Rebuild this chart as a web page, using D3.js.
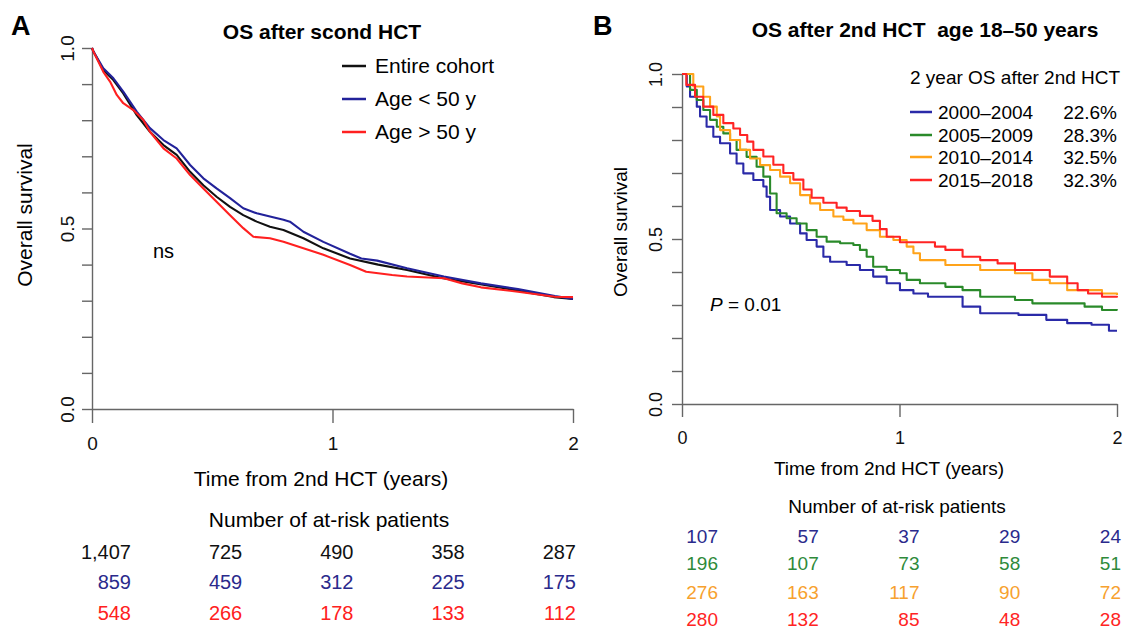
<!DOCTYPE html>
<html>
<head>
<meta charset="utf-8">
<script src="https://cdn.jsdelivr.net/npm/d3@7"></script>
<style>
  body { margin: 0; background: #fff; }
  text { font-family: "Liberation Sans", Arial, sans-serif; }
</style>
</head>
<body>
<div id="chart"></div>
<script>
// ---- Panel A data: [years, survival] ----
const aEntire = [[0,1],[0.006,0.99],[0.047,0.939],[0.089,0.911],[0.130,0.874],[0.186,0.814],[0.241,0.768],
  [0.297,0.731],[0.352,0.704],[0.408,0.657],[0.463,0.620],[0.518,0.588],[0.574,0.560],[0.629,0.537],
  [0.685,0.519],[0.740,0.505],[0.796,0.496],[0.879,0.473],[0.962,0.445],[1.073,0.417],[1.19,0.40],
  [1.31,0.385],[1.46,0.362],[1.62,0.345],[1.77,0.328],[1.92,0.31],[2.0,0.305]];
const aYoung = [[0,1],[0.006,0.99],[0.047,0.944],[0.089,0.916],[0.130,0.879],[0.186,0.824],[0.241,0.778],
  [0.297,0.745],[0.352,0.722],[0.408,0.676],[0.463,0.639],[0.518,0.611],[0.574,0.584],[0.629,0.556],
  [0.685,0.542],[0.740,0.533],[0.796,0.524],[0.823,0.519],[0.879,0.491],[0.962,0.463],[1.073,0.430],
  [1.12,0.417],[1.186,0.411],[1.31,0.39],[1.463,0.367],[1.617,0.348],[1.771,0.332],[1.925,0.313],[2.0,0.305]];
const aOld = [[0,1],[0.006,0.99],[0.047,0.934],[0.075,0.907],[0.103,0.870],[0.130,0.847],[0.172,0.828],
  [0.213,0.801],[0.241,0.768],[0.297,0.722],[0.352,0.694],[0.408,0.648],[0.463,0.611],[0.518,0.574],
  [0.574,0.537],[0.629,0.501],[0.671,0.477],[0.740,0.473],[0.796,0.463],[0.879,0.445],[0.962,0.427],
  [1.073,0.399],[1.14,0.38],[1.248,0.371],[1.31,0.367],[1.463,0.362],[1.54,0.348],[1.617,0.337],
  [1.771,0.325],[1.925,0.311],[2.0,0.31]];
const aLabels = ["Entire cohort", "Age < 50 y", "Age > 50 y"];
const aRiskEntire = [1407, 725, 490, 358, 287];
const aRiskYoung = [859, 459, 312, 225, 175];
const aRiskOld = [548, 266, 178, 133, 112];

// ---- Panel B data ----
const b2000 = [[0,1],[0.022,0.962],[0.037,0.931],[0.068,0.901],[0.083,0.871],[0.113,0.84],[0.144,0.81],
  [0.175,0.79],[0.221,0.759],[0.251,0.729],[0.282,0.699],[0.328,0.679],[0.374,0.659],[0.389,0.628],
  [0.405,0.588],[0.451,0.568],[0.497,0.547],[0.543,0.517],[0.573,0.497],[0.619,0.477],[0.65,0.446],
  [0.681,0.431],[0.757,0.421],[0.818,0.406],[0.879,0.386],[0.941,0.366],[1.002,0.345],[1.064,0.335],
  [1.131,0.325],[1.29,0.295],[1.371,0.275],[1.547,0.27],[1.675,0.255],[1.771,0.245],[1.883,0.24],
  [1.963,0.222],[2.0,0.222]];
const b2005 = [[0,1],[0.037,0.952],[0.068,0.921],[0.098,0.891],[0.129,0.861],[0.16,0.84],[0.19,0.82],
  [0.221,0.80],[0.251,0.77],[0.297,0.749],[0.343,0.719],[0.374,0.689],[0.405,0.638],[0.435,0.578],
  [0.481,0.563],[0.527,0.547],[0.573,0.527],[0.619,0.507],[0.665,0.492],[0.727,0.487],[0.788,0.482],
  [0.818,0.467],[0.849,0.446],[0.879,0.416],[0.941,0.406],[1.002,0.396],[1.033,0.376],[1.094,0.366],
  [1.211,0.355],[1.29,0.345],[1.371,0.325],[1.531,0.315],[1.611,0.305],[1.851,0.295],[1.931,0.285],[2.0,0.283]];
const b2010 = [[0,1],[0.052,0.962],[0.098,0.931],[0.129,0.901],[0.16,0.871],[0.175,0.83],[0.221,0.80],
  [0.267,0.77],[0.313,0.744],[0.359,0.724],[0.405,0.709],[0.451,0.689],[0.497,0.669],[0.543,0.633],
  [0.589,0.608],[0.635,0.588],[0.696,0.568],[0.742,0.558],[0.788,0.547],[0.849,0.527],[0.91,0.507],
  [0.972,0.497],[1.033,0.477],[1.064,0.457],[1.094,0.436],[1.211,0.421],[1.371,0.406],[1.531,0.396],
  [1.611,0.376],[1.691,0.366],[1.771,0.345],[1.931,0.335],[2.0,0.33]];
const b2015 = [[0,1],[0.02,0.967],[0.06,0.931],[0.098,0.901],[0.144,0.876],[0.19,0.851],[0.236,0.835],
  [0.267,0.815],[0.30,0.795],[0.328,0.77],[0.374,0.75],[0.42,0.725],[0.466,0.70],[0.512,0.68],
  [0.558,0.65],[0.596,0.625],[0.65,0.61],[0.711,0.595],[0.757,0.585],[0.818,0.57],[0.876,0.555],
  [0.91,0.53],[0.941,0.507],[1.002,0.49],[1.163,0.477],[1.211,0.467],[1.29,0.446],[1.371,0.436],
  [1.451,0.426],[1.531,0.406],[1.691,0.386],[1.771,0.366],[1.819,0.345],[1.867,0.335],[1.931,0.325],[2.0,0.323]];
const bLabels = ["2000\u20132004", "2005\u20132009", "2010\u20132014", "2015\u20132018"];
const bPct = ["22.6%", "28.3%", "32.5%", "32.3%"];
const bRisk2000 = [107, 57, 37, 29, 24];
const bRisk2005 = [196, 107, 73, 58, 51];
const bRisk2010 = [276, 163, 117, 90, 72];
const bRisk2015 = [280, 132, 85, 48, 28];

const yTicks = d3.range(0, 11).map(i => i / 10);
const xTicks = [0, 1, 2];
const riskTimes = [0, 0.5, 1, 1.5, 2];

const svg = d3.select("#chart").append("svg")
  .attr("width", 1125).attr("height", 631)
  .style("background", "#fff");

function drawPanel(p) {
  const x = d3.scaleLinear().domain([0, 2]).range([p.x0, p.x1]);
  const y = d3.scaleLinear().domain([0, 1]).range([p.y0, p.y1]);
  const g = svg.append("g");

  // letter + title
  g.append("text").attr("x", p.letterX).attr("y", 35)
    .attr("font-size", "27px").attr("font-weight", "bold").text(p.letter);
  g.append("text").attr("x", p.titleX).attr("y", p.titleY)
    .attr("text-anchor", "middle").attr("font-size", "21px").attr("font-weight", "bold")
    .style("white-space", "pre")
    .text(p.title);

  // axes
  const yAxis = g.append("g").attr("transform", `translate(${p.x0},0)`)
    .call(d3.axisLeft(y).tickValues(yTicks).tickSize(10).tickSizeOuter(0)
      .tickFormat(d => (Math.round(d * 10) % 5 === 0 ? d3.format(".1f")(d) : "")));
  yAxis.selectAll("text")
    .attr("transform", "rotate(-90)").attr("x", 0).attr("y", -p.tickLabelOff)
    .attr("dy", "0.36em").attr("text-anchor", "middle")
    .attr("font-size", p.tickFont).attr("fill", "#111");

  const xAxis = g.append("g").attr("transform", `translate(0,${p.y0})`)
    .call(d3.axisBottom(x).tickValues(xTicks).tickSize(p.xTick).tickSizeOuter(0)
      .tickFormat(d3.format("d")));
  xAxis.selectAll("text").attr("y", p.xLabelY).attr("font-size", p.tickFont).attr("fill", "#111");

  g.selectAll(".domain, .tick line").attr("stroke", "#666").attr("stroke-width", 1.4);

  // axis titles
  g.append("text")
    .attr("transform", `translate(${p.yTitleX},${p.yTitleY}) rotate(-90)`)
    .attr("text-anchor", "middle").attr("dy", "0.36em")
    .attr("font-size", p.font).text("Overall survival");
  g.append("text").attr("x", p.xTitleX).attr("y", p.xTitleY)
    .attr("text-anchor", "middle").attr("font-size", p.font)
    .text("Time from 2nd HCT (years)");

  // curves
  const line = d3.line().x(d => x(d[0])).y(d => y(d[1])).curve(p.curve);
  p.series.forEach(s => {
    g.append("path").datum(s.data)
      .attr("fill", "none").attr("stroke", s.color).attr("stroke-width", 2.1)
      .attr("stroke-linejoin", "round")
      .attr("d", line);
  });

  // at-risk table
  g.append("text").attr("x", p.riskTitleX).attr("y", p.riskTitleY)
    .attr("text-anchor", "middle").attr("font-size", p.font)
    .text("Number of at-risk patients");
  const rx = d3.scaleLinear().domain([0, 2]).range(p.riskRange);
  p.series.forEach((s, i) => {
    g.selectAll(null).data(s.risk).enter().append("text")
      .attr("x", (d, j) => rx(riskTimes[j]))
      .attr("y", p.riskRows[i])
      .attr("text-anchor", "end").attr("font-size", p.riskFont)
      .attr("fill", s.textColor)
      .text(d => d3.format(",")(d));
  });
  return { g, x, y };
}

// ---- Panel A ----
const aColors = ["#111", "#22229a", "#ff2020"];
const A = drawPanel({
  letter: "A", letterX: 11, title: "OS after scond HCT", titleX: 322, titleY: 39,
  x0: 92, x1: 573, y0: 409, y1: 48, xTick: 14, xLabelY: 28, tickLabelOff: 25,
  tickFont: "19px", font: "21px", riskFont: "20px",
  yTitleX: 24, yTitleY: 215, xTitleX: 321, xTitleY: 486,
  riskTitleX: 329, riskTitleY: 527, riskRange: [131, 576], riskRows: [559, 589, 620],
  curve: d3.curveLinear,
  series: [
    { data: aEntire, color: aColors[0], textColor: "#111", risk: aRiskEntire },
    { data: aYoung, color: aColors[1], textColor: "#2a2a8c", risk: aRiskYoung },
    { data: aOld, color: aColors[2], textColor: "#ff2020", risk: aRiskOld }
  ]
});
const aLeg = A.g.append("g");
aLabels.forEach((lab, i) => {
  const yy = 66 + i * 33;
  aLeg.append("line").attr("x1", 342).attr("x2", 366).attr("y1", yy).attr("y2", yy)
    .attr("stroke", aColors[i]).attr("stroke-width", 2.5);
  aLeg.append("text").attr("x", 375).attr("y", yy + 7).attr("font-size", "21px").text(lab);
});
A.g.append("text").attr("x", 153).attr("y", 258).attr("font-size", "20px").text("ns");

// ---- Panel B ----
const bColors = ["#2a2aa8", "#2a8a2a", "#ffa31a", "#ff2424"];
const B = drawPanel({
  letter: "B", letterX: 593, title: "OS after 2nd HCT  age 18\u201350 years", titleX: 925, titleY: 37,
  x0: 682, x1: 1117, y0: 404, y1: 74, xTick: 13, xLabelY: 27, tickLabelOff: 26,
  tickFont: "18px", font: "19px", riskFont: "19px",
  yTitleX: 620, yTitleY: 232, xTitleX: 889, xTitleY: 475,
  riskTitleX: 897, riskTitleY: 513, riskRange: [718, 1121], riskRows: [543, 570, 599, 626],
  curve: d3.curveStepAfter,
  series: [
    { data: b2000, color: bColors[0], textColor: "#2a2a8c", risk: bRisk2000 },
    { data: b2005, color: bColors[1], textColor: "#2e8a3a", risk: bRisk2005 },
    { data: b2010, color: bColors[2], textColor: "#f7a12e", risk: bRisk2010 },
    { data: b2015, color: bColors[3], textColor: "#ff2424", risk: bRisk2015 }
  ]
});
const bLeg = B.g.append("g");
bLeg.append("text").attr("x", 910).attr("y", 84).attr("font-size", "19px")
  .text("2 year OS after 2nd HCT");
bLabels.forEach((lab, i) => {
  const yy = [112, 135, 157, 180][i];
  bLeg.append("line").attr("x1", 910).attr("x2", 932).attr("y1", yy).attr("y2", yy)
    .attr("stroke", bColors[i]).attr("stroke-width", 2.5);
  bLeg.append("text").attr("x", 938).attr("y", yy + 7).attr("font-size", "19px").text(lab);
  bLeg.append("text").attr("x", 1117).attr("y", yy + 7).attr("text-anchor", "end")
    .attr("font-size", "19px").text(bPct[i]);
});
const pText = B.g.append("text").attr("x", 710).attr("y", 311).attr("font-size", "19px");
pText.append("tspan").attr("font-style", "italic").text("P");
pText.append("tspan").text(" = 0.01");
</script>
</body>
</html>
